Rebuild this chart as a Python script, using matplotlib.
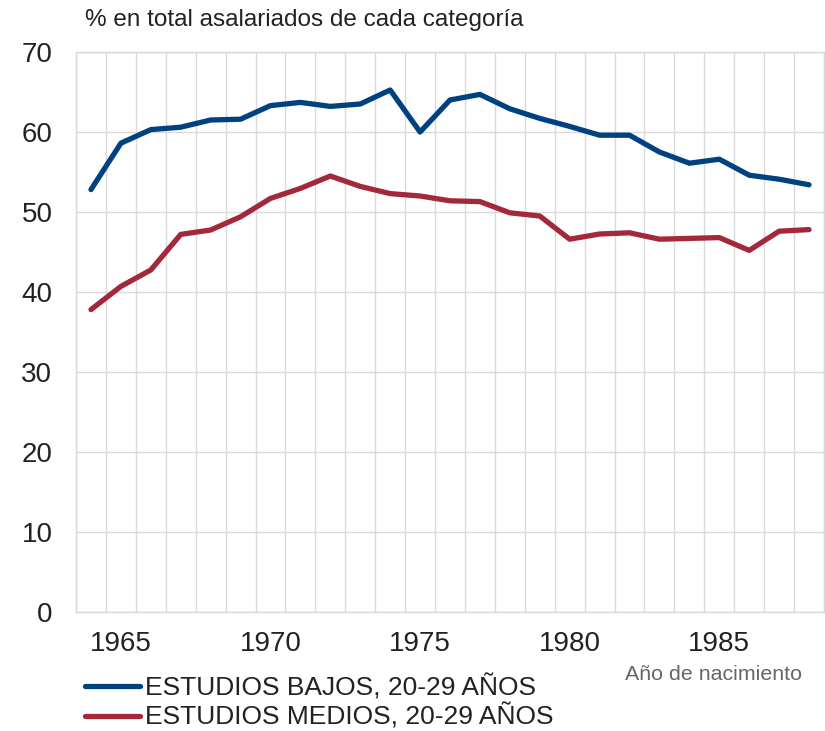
import matplotlib
matplotlib.use("Agg")
import matplotlib.pyplot as plt
import numpy as np

years = list(range(1964, 1989))
bajos = [52.8, 58.6, 60.3, 60.6, 61.5, 61.6, 63.3, 63.7, 63.2, 63.5, 65.25, 60.0, 64.0,
         64.7, 62.9, 61.7, 60.7, 59.6, 59.6, 57.5, 56.1, 56.6, 54.6, 54.1, 53.4]
medios = [37.8, 40.7, 42.75, 47.2, 47.75, 49.4, 51.7, 52.95, 54.5, 53.2, 52.3, 52.0, 51.4,
          51.3, 49.9, 49.5, 46.6, 47.25, 47.4, 46.6, 46.7, 46.8, 45.2, 47.6, 47.8]
labels = ["ESTUDIOS BAJOS, 20-29 AÑOS", "ESTUDIOS MEDIOS, 20-29 AÑOS"]
xtick_years = [1965, 1970, 1975, 1980, 1985]
yticks = [0, 10, 20, 30, 40, 50, 60, 70]

plt.rcParams['font.family'] = ['Liberation Sans', 'DejaVu Sans']

fig = plt.figure(figsize=(8.25, 7.31), dpi=100)
ax = fig.add_axes([76/825, 1-612/731, (824-76)/825, (612-52)/731])

x = np.arange(len(years))
blue = "#00417f"
red = "#a2283a"
ax.plot(x, bajos, color=blue, lw=3.8, solid_capstyle='round', solid_joinstyle='round', label=labels[0])
ax.plot(x, medios, color=red, lw=3.8, solid_capstyle='round', solid_joinstyle='round', label=labels[1])

ax.set_xlim(-0.5, len(years) - 0.5)
ax.set_ylim(0, 70)
ax.set_yticks(yticks)
ax.set_xticks([years.index(y) for y in xtick_years])
ax.set_xticklabels([str(y) for y in xtick_years])
ax.set_xticks(np.arange(-0.5, len(years)), minor=True)
gc = "#d9d9d9"
ax.grid(axis='x', which='minor', color=gc, lw=1)
ax.grid(axis='y', which='major', color=gc, lw=1)
ax.set_axisbelow(True)
for s in ax.spines.values():
    s.set_color(gc)
    s.set_linewidth(1)
ax.tick_params(axis='both', which='both', length=0)
ax.tick_params(axis='y', labelsize=20, pad=17, colors='#222222')
ax.tick_params(axis='x', labelsize=20, pad=14, colors='#222222')

fig.text(85/825, 1-20/731, "% en total asalariados de cada categoría", fontsize=17.5,
         va='center', ha='left', color='#222222')
fig.text(802/825, 1-674/731, "Año de nacimiento", fontsize=15.4, va='center', ha='right', color='#666666')

leg = fig.legend(loc='upper left', bbox_to_anchor=(80/825, 1-669/731), frameon=False,
                 fontsize=19, handlelength=2.08, handletextpad=0.2, labelspacing=0.12,
                 borderaxespad=0, borderpad=0.2)
for t in leg.get_texts():
    t.set_color('#222222')

fig.savefig("out.png", dpi=100)
